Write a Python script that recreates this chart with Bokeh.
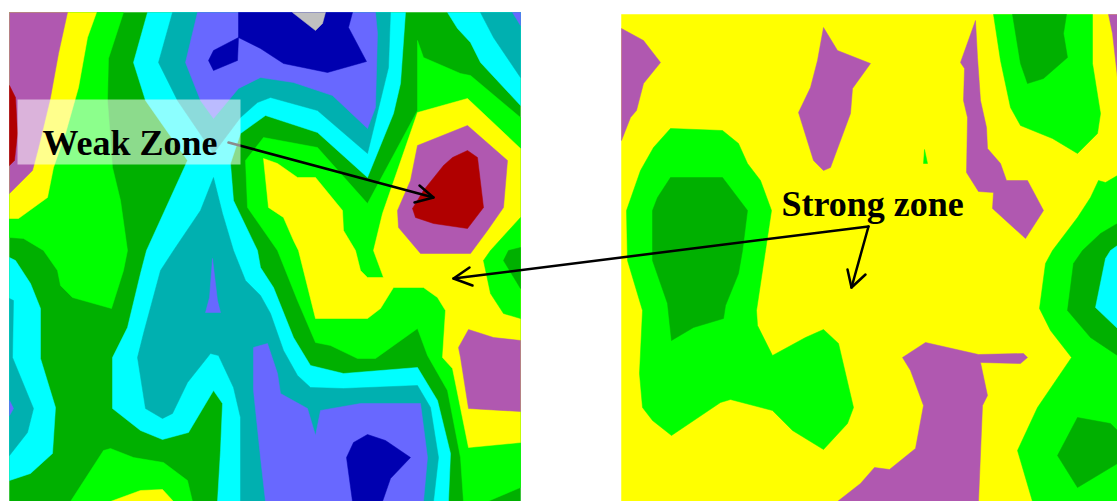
from bokeh.core.properties import value
from bokeh.embed import file_html
from bokeh.plotting import figure
from bokeh.resources import INLINE

PURPLE = "#B058B0"; YELLOW = "#FFFF00"; GREEN = "#00FF00"; DARK = "#00B000"
CYAN = "#00FFFF"; TEAL = "#00B0B0"; PERI = "#6868FF"; NAVY = "#0000B0"
GRAY = "#C0C0C0"; RED = "#B00000"

# ---- left map regions (painted in order)
l_base = [(9, 12), (520, 12), (520, 501), (9, 501)]
l_yellow_a = [(9, 12), (96, 12), (87, 37), (78, 87), (65, 133), (53, 167), (47, 197), (18, 218), (9, 218)]
l_green_a = [(9, 12), (123, 12), (108, 58), (107, 100), (112, 167), (120, 200), (127, 250), (123, 270), (111, 308),
             (72, 297), (60, 285), (57, 270), (43, 250), (23, 238), (9, 237)]
l_purple_a = [(9, 12), (67, 12), (58, 53), (50, 97), (38, 147), (32, 170), (9, 193)]
l_red_a = [(9, 85), (15, 97), (17, 133), (14, 160), (9, 165)]
l_cyan_main = [(147, 12), (405, 12), (400, 83), (393, 113), (367, 177), (317, 132), (265, 115), (240, 133), (230, 163),
               (233, 200), (257, 250), (260, 267), (273, 287), (293, 337), (310, 365), (343, 373), (417, 367),
               (437, 400), (450, 453), (448, 501), (217, 501), (220, 450), (222, 403), (213, 390), (188, 432),
               (162, 439), (140, 430), (112, 408), (112, 357), (127, 327), (140, 273), (146, 250), (187, 160),
               (145, 100), (133, 62)]
l_teal_top = [(172, 12), (390, 12), (388, 67), (367, 153), (317, 110), (270, 97), (257, 102), (240, 117), (213, 153),
              (177, 100), (158, 62)]
l_teal_low = [(213, 177), (222, 213), (233, 250), (245, 280), (260, 295), (270, 313), (283, 350), (297, 375), (310, 387),
              (343, 388), (417, 385), (430, 407), (438, 457), (433, 501), (240, 501), (240, 417), (233, 387), (218, 355),
              (210, 353), (187, 382), (172, 413), (162, 418), (145, 408), (137, 357), (143, 333), (160, 270), (173, 250),
              (200, 210)]
l_peri_top = [(197, 12), (375, 12), (377, 33), (375, 107), (367, 128), (332, 95), (293, 82), (260, 77), (238, 88),
              (213, 118), (200, 100), (185, 62)]
l_navy_top = [(238, 12), (352, 12), (348, 27), (366, 61), (327, 72), (283, 63), (260, 48), (238, 37), (237, 60),
              (213, 70), (208, 60), (213, 50), (238, 37)]
l_gray = [(292, 12), (325, 12), (322, 23), (315, 30)]
l_peri_small = [(212, 258), (217, 300), (220, 312), (205, 312), (209, 297)]
l_peri_low = [(253, 347), (267, 343), (277, 373), (280, 393), (307, 408), (315, 435), (320, 410), (360, 403), (420, 403),
              (427, 457), (423, 501), (265, 501), (260, 457), (253, 390)]
l_navy_low = [(367, 434), (385, 440), (410, 457), (390, 478), (382, 501), (352, 501), (346, 457), (353, 442)]
l_cyan_side = [(9, 257), (15, 260), (30, 283), (40, 308), (40, 358), (55, 407), (52, 453), (30, 473), (9, 480)]
l_teal_side = [(9, 298), (13, 300), (12, 357), (33, 408), (27, 432), (9, 455)]
l_peri_side = [(9, 400), (13, 408), (9, 415)]
l_green_bot = [(70, 501), (103, 450), (110, 448), (133, 457), (163, 462), (187, 480), (192, 501)]
l_yellow_bot = [(110, 501), (140, 490), (162, 489), (173, 501)]
l_cyan_tr = [(447, 12), (520, 12), (520, 105), (480, 62), (470, 42), (457, 28)]
l_teal_tr = [(480, 12), (520, 12), (520, 77), (493, 37)]
l_peri_tr = [(512, 12), (520, 12), (520, 25)]
l_green_main = [(417, 40), (423, 57), (460, 73), (470, 75), (520, 117), (520, 487), (487, 501), (463, 501), (460, 457),
                (447, 390), (427, 355), (417, 328), (375, 358), (357, 358), (330, 345), (315, 342), (297, 300),
                (277, 250), (247, 207), (245, 160), (263, 137), (317, 147), (367, 203), (417, 110)]
l_yellow_main = [(417, 112), (467, 98), (520, 148), (520, 442), (468, 447), (452, 368), (442, 357), (445, 310),
                 (437, 297), (423, 287), (393, 287), (380, 308), (367, 318), (315, 318), (308, 290), (298, 250),
                 (293, 240), (283, 217), (268, 207), (263, 158), (277, 163), (297, 177), (315, 177), (342, 210),
                 (343, 230), (355, 250), (360, 270), (367, 277), (383, 277), (373, 250), (382, 213)]
l_purple_c = [(417, 145), (467, 125), (507, 160), (503, 207), (487, 230), (470, 253), (420, 253), (398, 227), (397, 210),
              (410, 180)]
l_red_c = [(467, 150), (477, 157), (483, 207), (467, 228), (433, 223), (415, 217), (412, 208), (423, 190), (443, 165),
           (452, 157)]
l_purple_r = [(468, 329), (493, 337), (520, 340), (520, 411), (468, 408), (460, 357), (458, 347)]
l_green_wedge = [(520, 217), (490, 250), (483, 260), (490, 293), (503, 313), (520, 318)]
l_dark_wedge = [(520, 247), (508, 250), (503, 260), (520, 288)]

# ---- right map regions
r_base = [(621, 14), (1117, 14), (1117, 501), (621, 501)]
r_purple_a = [(621, 28), (643, 40), (660, 62), (643, 83), (636, 110), (630, 117), (621, 140)]
r_purple_b = [(823, 27), (837, 50), (870, 63), (852, 88), (850, 113), (830, 167), (823, 170), (813, 160), (798, 112),
              (810, 87), (817, 60)]
r_green_a = [(670, 128), (722, 130), (738, 143), (747, 163), (760, 180), (771, 210), (765, 250), (756, 310), (757, 325),
             (772, 355), (805, 337), (823, 329), (838, 343), (853, 407), (847, 423), (823, 449), (792, 430), (772, 410),
             (730, 399), (720, 402), (671, 435), (652, 420), (642, 407), (639, 373), (642, 310), (627, 260), (626, 210),
             (640, 170), (653, 147)]
r_dark_a = [(670, 177), (722, 177), (747, 210), (742, 250), (738, 273), (725, 305), (723, 318), (693, 327), (671, 340),
            (667, 303), (652, 260), (652, 210), (657, 197)]
r_purple_c = [(975, 20), (977, 57), (980, 100), (986, 127), (987, 148), (1000, 163), (1006, 180), (1027, 180),
              (1043, 210), (1025, 238), (992, 208), (993, 192), (978, 191), (966, 172), (967, 117), (963, 100),
              (964, 68), (960, 62)]
r_green_top = [(993, 14), (1092, 14), (1092, 63), (1100, 113), (1097, 133), (1077, 153), (1052, 138), (1020, 125),
               (1010, 107), (1000, 60)]
r_dark_top = [(1012, 14), (1066, 14), (1063, 33), (1067, 57), (1043, 78), (1027, 83), (1020, 63)]
r_purple_tr = [(1108, 14), (1117, 14), (1117, 77), (1112, 33)]
r_green_spike = [(924, 149), (927, 163), (923, 163)]
r_green_b = [(1098, 180), (1105, 182), (1117, 175), (1117, 501), (1032, 501), (1017, 450), (1037, 407), (1071, 357),
             (1050, 330), (1039, 308), (1045, 263), (1052, 250), (1077, 217), (1090, 197)]
r_dark_b = [(1117, 223), (1100, 233), (1082, 250), (1073, 263), (1067, 310), (1090, 337), (1117, 355)]
r_cyan_b = [(1117, 245), (1110, 250), (1105, 258), (1095, 307), (1117, 328)]
r_dark_c = [(1077, 417), (1110, 423), (1117, 430), (1117, 463), (1077, 487), (1057, 455)]
r_purple_d = [(925, 342), (978, 354), (1023, 353), (1027, 357), (1020, 363), (980, 362), (987, 395), (982, 405),
              (978, 501), (837, 501), (860, 483), (874, 467), (889, 469), (915, 448), (923, 405), (910, 370), (902, 357)]

LAYERS = [
    (DARK, l_base), (GREEN, l_green_a), (YELLOW, l_yellow_a), (PURPLE, l_purple_a), (RED, l_red_a),
    (GREEN, l_green_main), (YELLOW, l_yellow_main), (GREEN, l_green_wedge), (DARK, l_dark_wedge),
    (PURPLE, l_purple_c), (RED, l_red_c), (PURPLE, l_purple_r),
    (CYAN, l_cyan_main), (TEAL, l_teal_top), (TEAL, l_teal_low), (PERI, l_peri_top), (NAVY, l_navy_top), (GRAY, l_gray),
    (PERI, l_peri_small), (PERI, l_peri_low), (NAVY, l_navy_low),
    (CYAN, l_cyan_side), (TEAL, l_teal_side), (PERI, l_peri_side),
    (GREEN, l_green_bot), (YELLOW, l_yellow_bot),
    (CYAN, l_cyan_tr), (TEAL, l_teal_tr), (PERI, l_peri_tr),
    (YELLOW, r_base), (PURPLE, r_purple_a), (PURPLE, r_purple_b), (GREEN, r_green_a), (DARK, r_dark_a),
    (PURPLE, r_purple_c), (GREEN, r_green_top), (DARK, r_dark_top), (PURPLE, r_purple_tr), (GREEN, r_green_spike),
    (GREEN, r_green_b), (DARK, r_dark_b), (CYAN, r_cyan_b), (DARK, r_dark_c), (PURPLE, r_purple_d),
]

# ---- annotations
arrow_weak = [(228, 142), (433, 197)]
arrow_weak_head = [(419, 185), (433, 197), (414, 202)]
arrow_left = [(453, 278), (868, 226)]
arrow_left_head = [(469, 267), (453, 278), (472, 285)]
arrow_down = [(868, 226), (851, 287)]
arrow_down_head = [(847, 269), (851, 287), (865, 274)]
ARROWS = [arrow_weak, arrow_weak_head, arrow_left, arrow_left_head, arrow_down, arrow_down_head]
weak_box = (17, 99, 240, 164)
labels = ["Weak Zone", "Strong zone"]
label_x = [42, 781]
label_y = [142, 203]

p = figure(width=1117, height=501, x_range=(0, 1117), y_range=(501, 0), output_backend="svg",
           toolbar_location=None, min_border=0, outline_line_color=None, background_fill_color="white",
           border_fill_color="white")
p.xaxis.visible = False
p.yaxis.visible = False
p.grid.visible = False

for color, pts in LAYERS:
    p.patch([q[0] for q in pts], [q[1] for q in pts], fill_color=color, line_color=color, line_width=0.5)

for pts in ARROWS:
    p.line([q[0] for q in pts], [q[1] for q in pts], line_color="black", line_width=2.5, line_cap="round",
           line_join="round")

p.quad(left=[weak_box[0]], top=[weak_box[1]], right=[weak_box[2]], bottom=[weak_box[3]], fill_color="white",
       fill_alpha=0.55, line_color=None)

p.text(x=label_x, y=label_y, text=labels, text_font=value("Liberation Serif"), text_font_style="bold",
       text_font_size="36px", text_color="black", text_baseline="alphabetic", text_align="left")

open("out.html", "w").write(file_html(p, INLINE))
